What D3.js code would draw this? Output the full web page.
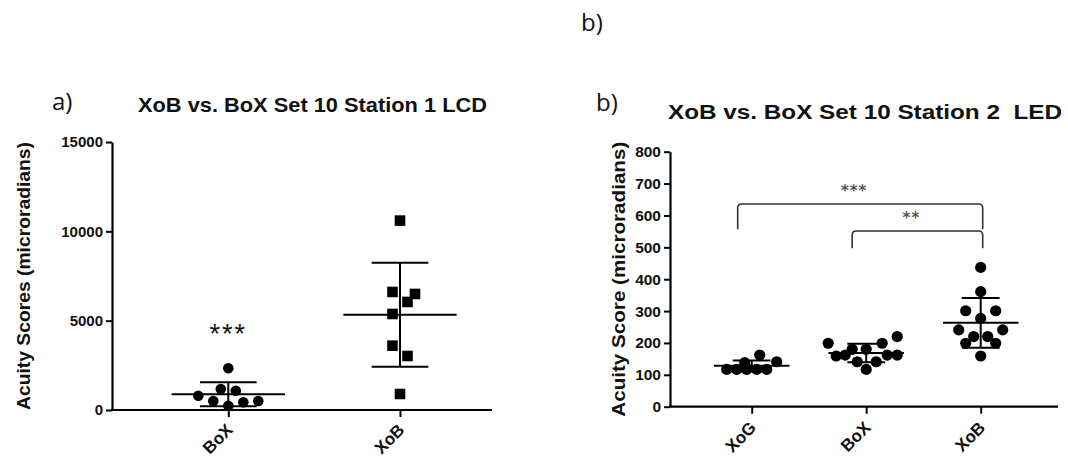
<!DOCTYPE html>
<html lang="en">
<head>
<meta charset="UTF-8">
<title>XoB vs. BoX acuity scores</title>
<script src="https://d3js.org/d3.v7.min.js"></script>
<style>
  body { margin: 0; background: #fff; }
  svg { display: block; }
  .tick text { font: bold 15px "Liberation Sans", Arial, sans-serif; fill: #111; }
  .panel-tag { font: 24px "Open Sans", Lato, sans-serif; fill: #111; }
  .title { font: bold 21px "Liberation Sans", Arial, sans-serif; fill: #111; white-space: pre; }
  .ylabel { font: bold 18px "Liberation Sans", Arial, sans-serif; fill: #111; }
</style>
</head>
<body>
<svg width="1068" height="459"></svg>
<script>
// ---- panel a: Station 1 LCD ----
const aGroups = ["BoX", "XoB"];
const aTicks = [0, 5000, 10000, 15000];
const aBoX = [2335, 800, 1175, 1080, 505, 240, 430, 505];
const aBoXJitter = [0, -3, -0.75, 0.75, -1.5, 0, 1.5, 3];
const aXoB = [10600, 6607, 6495, 6047, 5375, 3600, 3023, 896];
const aXoBJitter = [0, -0.75, 1.5, 0.75, -0.75, -0.75, 0.75, 0];

// ---- panel b: Station 2 LED ----
const bGroups = ["XoG", "BoX", "XoB"];
const bTicks = [0, 100, 200, 300, 400, 500, 600, 700, 800];
const bXoG = [117, 117, 117, 117, 117, 138, 162, 141];
const bXoGJitter = [-2.5, -1.5, -0.5, 0.5, 1.5, -0.7, 0.8, 2.5];
const bBoX = [199, 159, 162, 180, 141, 180, 117, 141, 199, 162, 162, 220];
const bBoXJitter = [-3.8, -3, -2.1, -1.4, -0.9, 0, 0, 1, 1.6, 2.1, 3.1, 3.1];
const bXoB = [437, 361, 301, 301, 277, 241, 241, 220, 220, 199, 199, 159];
const bXoBJitter = [0, 0, -1.5, 1.5, 0, -2.2, 2.2, -0.7, 0.7, -1.5, 1.5, 0];

// significance brackets in panel b
const compFrom = ["XoG", "BoX"];
const compTo = ["XoB", "XoB"];
const compLabel = ["***", "**"];
const compTop = [636, 551];
const compEnd = [557, 497];

const svg = d3.select("svg");

function drawPanel(cfg) {
  const y = d3.scaleLinear().domain([0, cfg.yMax]).range([cfg.bottom, cfg.top]);
  const x = d3.scalePoint().domain(cfg.groups).range(cfg.xRange);
  const jit = d3.scaleLinear().domain([0, 1]).range([0, 10]);
  const meanHalf = x.step() * 0.33, capHalf = x.step() * 0.165;
  const g = svg.append("g");

  // y axis
  const ya = g.append("g")
    .attr("transform", `translate(${cfg.left},0)`)
    .call(d3.axisLeft(y).tickValues(cfg.ticks).tickFormat(d3.format("d"))
      .tickSize(6).tickSizeOuter(0).tickPadding(3));
  ya.select(".domain").attr("stroke-width", 2.2);
  ya.selectAll(".tick line").attr("stroke-width", 2);
  ya.selectAll(".tick text").style("font-size", cfg.tickFont + "px");

  // x axis
  const xa = g.append("g")
    .attr("transform", `translate(0,${cfg.bottom})`)
    .call(d3.axisBottom(x).tickSize(7).tickSizeOuter(0));
  xa.select(".domain").remove();
  xa.append("line").attr("x1", cfg.left - 1).attr("x2", cfg.right)
    .attr("stroke", "#000").attr("stroke-width", 2.2);
  xa.selectAll(".tick line").attr("stroke-width", 2);
  xa.selectAll(".tick text")
    .attr("x", 0).attr("y", 0).attr("dy", 0)
    .attr("transform", `translate(5,${cfg.labelDrop}) rotate(-45)`)
    .style("text-anchor", "end")
    .style("font-size", "17px");

  // points, means, SD bars
  cfg.series.forEach(s => {
    const cx = x(s.name);
    const pts = g.append("g");
    s.values.forEach((v, i) => {
      const px = cx + jit(s.jitter[i]), py = y(v);
      if (s.shape === "square") {
        pts.append("rect").attr("x", px - cfg.r).attr("y", py - cfg.r)
          .attr("width", cfg.r * 2).attr("height", cfg.r * 2).attr("fill", "#000");
      } else {
        pts.append("circle").attr("cx", px).attr("cy", py).attr("r", cfg.r).attr("fill", "#000");
      }
    });
    const m = d3.mean(s.values), sd = d3.deviation(s.values);
    const lines = [
      [cx - meanHalf, y(m), cx + meanHalf, y(m)],
      [cx, y(m - sd), cx, y(m + sd)],
      [cx - capHalf, y(m + sd), cx + capHalf, y(m + sd)],
      [cx - capHalf, y(m - sd), cx + capHalf, y(m - sd)]
    ];
    g.selectAll(null).data(lines).join("line")
      .attr("x1", d => d[0]).attr("y1", d => d[1])
      .attr("x2", d => d[2]).attr("y2", d => d[3])
      .attr("stroke", "#000").attr("stroke-width", 2);
  });

  // title & labels
  g.append("text").attr("class", "title")
    .attr("x", cfg.titleX).attr("y", cfg.titleY)
    .attr("textLength", cfg.titleLen).attr("lengthAdjust", "spacingAndGlyphs")
    .text(cfg.title);
  g.append("text").attr("class", "ylabel")
    .attr("transform", `translate(${cfg.ylabelX},${(cfg.top + cfg.bottom) / 2}) rotate(-90)`)
    .attr("text-anchor", "middle")
    .attr("textLength", cfg.ylabelLen).attr("lengthAdjust", "spacingAndGlyphs")
    .text(cfg.ylabel);

  return { g, x, y };
}

// panel a
const pa = drawPanel({
  groups: aGroups, ticks: aTicks, yMax: 15000,
  left: 112, right: 492, top: 142, bottom: 410, xRange: [228.3, 400],
  tickFont: 15, r: 5.3, labelDrop: 21,
  series: [
    { name: "BoX", values: aBoX, jitter: aBoXJitter, shape: "circle" },
    { name: "XoB", values: aXoB, jitter: aXoBJitter, shape: "square" }
  ],
  title: "XoB vs. BoX Set 10 Station 1 LCD", titleX: 138, titleY: 111.5, titleLen: 349,
  ylabel: "Acuity Scores (microradians)", ylabelX: 30, ylabelLen: 268
});
pa.g.append("text")
  .attr("x", pa.x("BoX")).attr("y", 343)
  .attr("text-anchor", "middle")
  .style("font", "27px 'Liberation Sans', Arial, sans-serif")
  .style("letter-spacing", "2px")
  .attr("fill", "#111")
  .text("***");
svg.append("text").attr("class", "panel-tag").attr("x", 52).attr("y", 110).text("a)");

// panel b
const pb = drawPanel({
  groups: bGroups, ticks: bTicks, yMax: 800,
  left: 670, right: 1058, top: 151.7, bottom: 406.7, xRange: [751.7, 980.7],
  tickFont: 15.5, r: 5.6, labelDrop: 22,
  series: [
    { name: "XoG", values: bXoG, jitter: bXoGJitter, shape: "circle" },
    { name: "BoX", values: bBoX, jitter: bBoXJitter, shape: "circle" },
    { name: "XoB", values: bXoB, jitter: bXoBJitter, shape: "circle" }
  ],
  title: "XoB vs. BoX Set 10 Station 2  LED", titleX: 668, titleY: 119.3, titleLen: 394,
  ylabel: "Acuity Score (microradians)", ylabelX: 625, ylabelLen: 275
});

compFrom.forEach((f, i) => {
  const x1 = pb.x(f) - 14, x2 = pb.x(compTo[i]) + 2;
  const yt = pb.y(compTop[i]), ye = pb.y(compEnd[i]), rr = 4;
  pb.g.append("path")
    .attr("d", `M${x1},${ye}V${yt + rr}Q${x1},${yt} ${x1 + rr},${yt}H${x2 - rr}Q${x2},${yt} ${x2},${yt + rr}V${ye}`)
    .attr("fill", "none").attr("stroke", "#333").attr("stroke-width", 1.6);
  pb.g.append("text")
    .attr("x", (x1 + x2) / 2 - 6).attr("y", yt - 8)
    .attr("text-anchor", "middle")
    .style("font", "bold 15px 'DejaVu Sans', sans-serif")
    .style("letter-spacing", "1px")
    .attr("fill", "#555")
    .text(compLabel[i]);
});

svg.append("text").attr("class", "panel-tag").attr("x", 596).attr("y", 111).text("b)");
svg.append("text").attr("class", "panel-tag").attr("x", 581).attr("y", 31).text("b)");
</script>
</body>
</html>
